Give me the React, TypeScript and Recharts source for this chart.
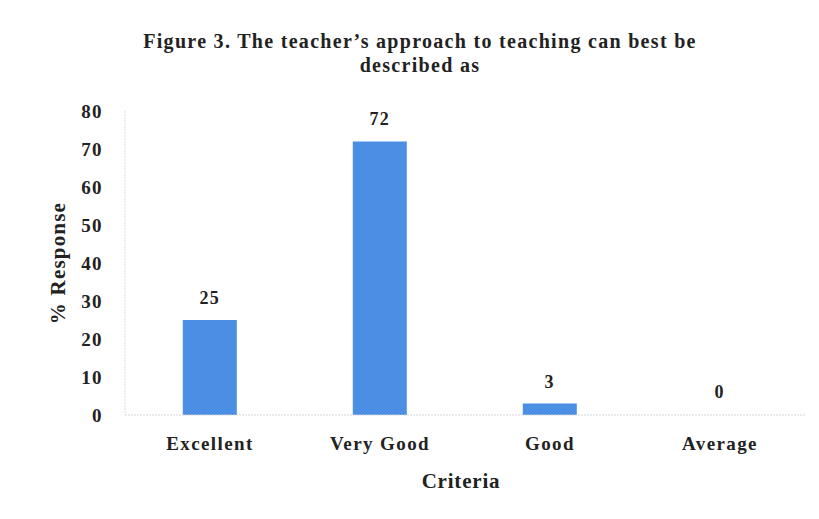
import { Bar, BarChart, Cell, LabelList, XAxis, YAxis } from 'recharts';

const CATEGORIES = ['Excellent', 'Very Good', 'Good', 'Average'];
const RESPONSE = [25, 72, 3, 0];
const Y_TICKS = [0, 10, 20, 30, 40, 50, 60, 70, 80];

const BAR_COLOR = '#4a8fe3';
const FONT = '"Liberation Serif", "Times New Roman", serif';

const data = CATEGORIES.map((name, i) => ({ name, value: RESPONSE[i] }));

const tickStyle = {
  fontFamily: FONT,
  fontSize: 19,
  fontWeight: 700,
  fill: '#222',
  letterSpacing: 1.4,
};

// draws the value above each bar, including the zero one
function ValueLabel(props: any) {
  const { x, y, width, value } = props;
  return (
    <text
      x={Number(x) + Number(width) / 2}
      y={Number(y) - 16}
      textAnchor="middle"
      style={{ ...tickStyle, fontSize: 18 }}
    >
      {value}
    </text>
  );
}

export default function App() {
  return (
    <div
      style={{
        position: 'relative',
        margin: -8,
        width: 819,
        height: 519,
        background: '#fff',
        overflow: 'hidden',
      }}
    >
      <div
        style={{
          position: 'absolute',
          left: 4,
          top: 5,
          width: 809,
          height: 510,
          border: '1px solid #e2e2e2',
        }}
      />
      <div
        style={{
          position: 'absolute',
          left: 0,
          top: 29,
          width: 840,
          textAlign: 'center',
          fontFamily: FONT,
          fontWeight: 700,
          fontSize: 20,
          lineHeight: '24px',
          letterSpacing: 1.3,
          color: '#222',
        }}
      >
        Figure 3. The teacher’s approach to teaching can best be
        <br />
        described as
      </div>
      <BarChart
        width={819}
        height={519}
        data={data}
        margin={{ top: 111, right: 14, bottom: 0, left: 45 }}
        barCategoryGap="34%"
      >
        <XAxis
          dataKey="name"
          height={104}
          tickLine={false}
          tickSize={0}
          tickMargin={22}
          axisLine={{ stroke: '#d6d6d6', strokeDasharray: '2 1' }}
          tick={tickStyle}
          interval={0}
          label={{
            value: 'Criteria',
            position: 'center',
            dx: -4,
            dy: 14,
            style: { ...tickStyle, fontSize: 21, letterSpacing: 0.8 },
          }}
        />
        <YAxis
          width={80}
          domain={[0, 80]}
          ticks={Y_TICKS}
          tickLine={false}
          tickSize={0}
          tickMargin={22}
          axisLine={{ stroke: '#dcdcdc', strokeDasharray: '2 1' }}
          tick={tickStyle}
          label={{
            value: '% Response',
            position: 'center',
            angle: -90,
            dx: -27,
            style: { ...tickStyle, fontSize: 21, letterSpacing: 1.2 },
          }}
        />
        <Bar dataKey="value" fill={BAR_COLOR} minPointSize={1} isAnimationActive={false}>
          {data.map((d) => (
            <Cell key={d.name} fill={d.value === 0 ? 'none' : BAR_COLOR} />
          ))}
          <LabelList dataKey="value" content={ValueLabel} />
        </Bar>
      </BarChart>
    </div>
  );
}
